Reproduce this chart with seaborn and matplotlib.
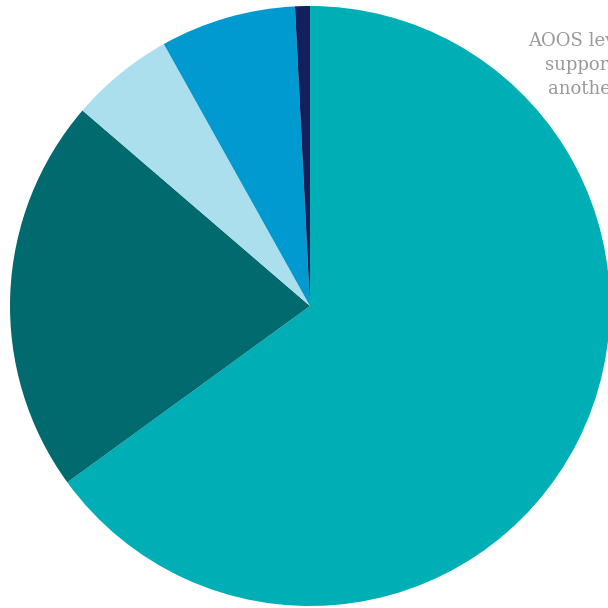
import matplotlib
matplotlib.use("Agg")
import matplotlib.pyplot as plt
import seaborn as sns

# slice shares in percent (clockwise from top)
labels = ['AOOS', 'Partner A', 'Partner B', 'Partner C', 'Other']
shares = [65.0, 21.3, 5.6, 7.3, 0.8]
colors = ['#00aeb5', '#006a6e', '#abdfee', '#0099d0', '#141f5e']
note_lines = ['AOOS level of', 'support from', 'another source']

sns.set_theme(style='white')
plt.rcParams['font.family'] = ['DejaVu Serif']

fig = plt.figure(figsize=(6.08, 6.08), dpi=100)
ax = fig.add_axes([10 / 608, 2 / 608, 600 / 608, 600 / 608])
ax.pie(shares, colors=sns.color_palette(colors), startangle=90,
       counterclock=False, radius=1,
       wedgeprops={'linewidth': 0, 'antialiased': True})
ax.set_xlim(-1, 1)
ax.set_ylim(-1, 1)
ax.set_aspect('equal')
ax.axis('off')

# the annotation runs off the right edge, as in the original crop
for line, x0, base in zip(note_lines, [528, 545, 548], [46, 70, 94]):
    fig.text(x0 / 608, 1 - base / 608, line, ha='left', va='baseline',
             fontsize=13, color='#999999')

fig.savefig('out.png', dpi=100)
